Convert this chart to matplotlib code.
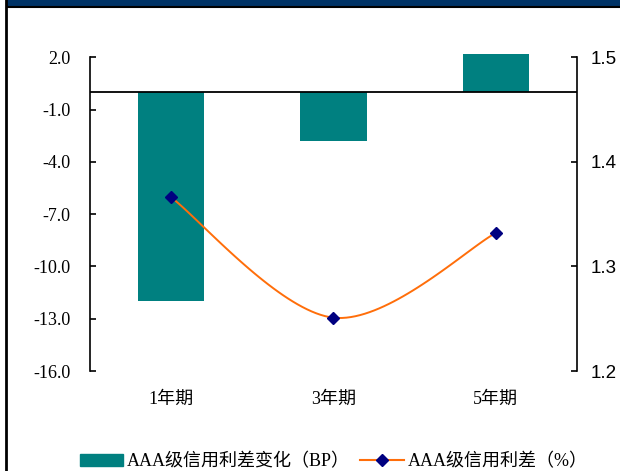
import numpy as np
import matplotlib
matplotlib.use("Agg")
from matplotlib import pyplot as plt
from matplotlib.patches import Rectangle
from matplotlib.lines import Line2D

plt.rcParams['font.family'] = ['Liberation Serif', 'Noto Sans CJK SC']

categories = ['1年期', '3年期', '5年期']
spread_change = [-12.0, -2.8, 2.2]      # AAA级信用利差变化 (BP)
spread = [1.366, 1.251, 1.332]          # AAA级信用利差 (%)
left_ticks = [-16, -13, -10, -7, -4, -1, 2]
right_ticks = [1.2, 1.3, 1.4, 1.5]

teal = '#008080'
orange = '#FF6E0A'
navy = '#000080'

fig = plt.figure(figsize=(6.2, 4.71), dpi=100)
ax = fig.add_axes([0.1452, 0.2123, 0.7854, 0.6660])
ax2 = ax.twinx()

x = np.arange(len(categories))
ax.bar(x, spread_change, width=0.41, color=teal, zorder=2, clip_on=False)
ax.axhline(0, color='black', lw=1.3, zorder=3)

# excel-like smoothed line (bezier through the points)
def smooth(xs, ys, n=40):
    pts = np.column_stack([xs, ys]).astype(float)
    out = []
    for i in range(len(pts) - 1):
        p0 = pts[i - 1] if i > 0 else pts[i]
        p1, p2 = pts[i], pts[i + 1]
        p3 = pts[i + 2] if i + 2 < len(pts) else pts[i + 1]
        c1 = p1 + (p2 - p0) / 6
        c2 = p2 - (p3 - p1) / 6
        t = np.linspace(0, 1, n)[:, None]
        seg = (1 - t) ** 3 * p1 + 3 * (1 - t) ** 2 * t * c1 + 3 * (1 - t) * t ** 2 * c2 + t ** 3 * p2
        out.append(seg)
    out = np.vstack(out)
    return out[:, 0], out[:, 1]

sx, sy = smooth(x, spread)
ax2.plot(sx, sy, color=orange, lw=1.4, zorder=3)
ax2.plot(x, spread, ls='none', marker='D', ms=6, color=navy, zorder=4)

ax.set_xlim(-0.5, 2.5)
ax.set_ylim(-16, 2)
ax2.set_ylim(1.2, 1.5)
ax.set_yticks(left_ticks)
ax.set_yticklabels(['%.1f' % v for v in left_ticks], fontsize=13)
ax2.set_yticks(right_ticks)
ax2.set_yticklabels(['%.1f' % v for v in right_ticks], fontsize=13.5,
                    family='Liberation Sans')
ax.set_xticks(x)
ax.set_xticklabels(categories, fontsize=13)

for a in (ax, ax2):
    a.spines['top'].set_visible(False)
    a.spines['bottom'].set_visible(False)
ax.spines['right'].set_visible(False)
ax2.spines['left'].set_visible(False)
ax.spines['left'].set_linewidth(1.2)
ax2.spines['right'].set_linewidth(1.2)

ax.tick_params(axis='y', direction='in', length=4, width=1.2, pad=14)
ax2.tick_params(axis='y', direction='in', length=4, width=1.2, pad=10)
ax.tick_params(axis='x', length=0, pad=14)

handles = [Rectangle((0, 0), 1, 1, color=teal),
           Line2D([], [], color=orange, lw=1.5, marker='D', ms=6,
                  markerfacecolor=navy, markeredgecolor=navy)]
labels = ['AAA级信用利差变化（BP）', 'AAA级信用利差（%）']
fig.legend(handles, labels, loc='center', bbox_to_anchor=(0.538, 0.02),
           ncol=2, frameon=False, fontsize=13, handlelength=2.4,
           handletextpad=0.2, columnspacing=0.6)

# frame decorations
fig.patches.append(Rectangle((7 / 620, 1 - 6 / 471), 1, 6 / 471,
                             transform=fig.transFigure, color='#003366'))
fig.add_artist(Line2D([7 / 620, 1], [1 - 7 / 471, 1 - 7 / 471],
                      transform=fig.transFigure, color='black', lw=1.5))
fig.add_artist(Line2D([6 / 620, 6 / 620], [0, 1],
                      transform=fig.transFigure, color='black', lw=2))

fig.savefig('out.png', dpi=100)
